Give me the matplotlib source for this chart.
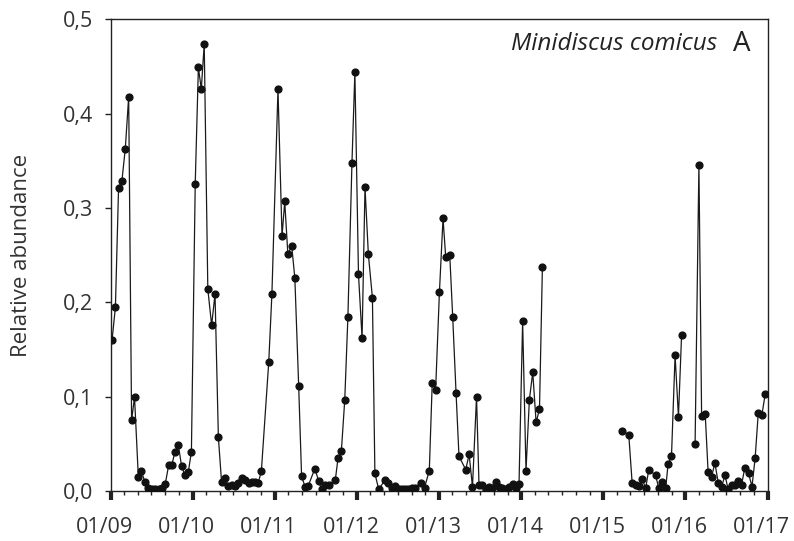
import numpy as np
import pandas as pd
import matplotlib
matplotlib.use("Agg")
import matplotlib.pyplot as plt
import matplotlib.dates as mdates
import matplotlib.transforms as mtransforms
from matplotlib.ticker import FixedLocator, FuncFormatter

plt.rcParams['font.family'] = ['Open Sans', 'DejaVu Sans']

# ---- data (sampling dates and relative abundance of Minidiscus comicus) ----
dates = [
    "2009-01-07", "2009-01-22", "2009-02-05", "2009-02-20", "2009-03-07", "2009-03-22",
    "2009-04-04", "2009-04-17", "2009-05-04", "2009-05-18", "2009-06-02", "2009-06-17",
    "2009-07-03", "2009-07-18", "2009-08-02", "2009-08-17", "2009-09-01", "2009-09-16",
    "2009-09-30", "2009-10-14", "2009-10-29", "2009-11-12", "2009-11-27", "2009-12-12",
    "2009-12-26",
    "2010-01-12", "2010-01-26", "2010-02-08", "2010-02-21", "2010-03-09", "2010-03-26",
    "2010-04-10", "2010-04-25", "2010-05-09", "2010-05-24", "2010-06-08", "2010-06-23",
    "2010-07-08", "2010-07-23", "2010-08-08", "2010-08-23", "2010-09-07", "2010-09-21",
    "2010-10-06", "2010-10-19", "2010-11-02", "2010-12-05", "2010-12-19",
    "2011-01-15", "2011-02-02", "2011-02-14", "2011-02-28", "2011-03-17", "2011-03-31",
    "2011-04-17", "2011-04-30", "2011-05-15", "2011-05-30", "2011-06-28", "2011-07-15",
    "2011-07-28", "2011-08-13", "2011-08-28", "2011-09-27", "2011-10-09", "2011-10-24",
    "2011-11-08", "2011-11-22", "2011-12-10", "2011-12-23",
    "2012-01-08", "2012-01-24", "2012-02-06", "2012-02-21", "2012-03-10", "2012-03-21",
    "2012-04-07", "2012-05-05", "2012-05-20", "2012-06-04", "2012-06-19", "2012-07-04",
    "2012-07-19", "2012-08-02", "2012-08-17", "2012-09-01", "2012-09-15", "2012-10-12",
    "2012-10-28", "2012-11-18", "2012-12-01", "2012-12-16",
    "2013-01-02", "2013-01-18", "2013-01-30", "2013-02-17", "2013-03-02", "2013-03-17",
    "2013-03-30", "2013-04-29", "2013-05-14", "2013-05-29", "2013-06-16", "2013-06-27",
    "2013-07-12", "2013-07-27", "2013-08-11", "2013-08-26", "2013-09-10", "2013-09-24",
    "2013-10-09", "2013-10-27", "2013-11-08", "2013-11-23", "2013-12-07", "2013-12-22",
    "2014-01-07", "2014-01-22", "2014-02-06", "2014-02-21", "2014-03-08", "2014-03-23",
    "2014-04-05",
    "2014-09-01",
    "2015-03-23", "2015-04-24", "2015-05-09", "2015-05-24", "2015-06-08", "2015-06-23",
    "2015-07-08", "2015-07-22", "2015-08-21", "2015-09-05", "2015-09-20", "2015-10-05",
    "2015-10-16", "2015-10-31", "2015-11-16", "2015-12-01", "2015-12-15",
    "2016-01-15",
    "2016-02-13", "2016-03-01", "2016-03-13", "2016-03-29", "2016-04-11", "2016-04-26",
    "2016-05-11", "2016-05-26", "2016-06-10", "2016-06-25", "2016-07-09", "2016-07-24",
    "2016-08-08", "2016-08-23", "2016-09-07", "2016-09-21", "2016-10-08", "2016-10-23",
    "2016-11-06", "2016-11-20", "2016-12-06", "2016-12-21",
]

abundance = [
    0.160, 0.195, 0.321, 0.329, 0.363, 0.418,
    0.075, 0.100, 0.015, 0.021, 0.010, 0.004,
    0.002, 0.002, 0.002, 0.003, 0.008, 0.028,
    0.028, 0.042, 0.049, 0.027, 0.017, 0.020,
    0.042,
    0.326, 0.449, 0.426, 0.474, 0.214, 0.176,
    0.209, 0.057, 0.010, 0.014, 0.006, 0.007,
    0.006, 0.009, 0.014, 0.012, 0.009, 0.010,
    0.010, 0.009, 0.021, 0.137, 0.209,
    0.426, 0.270, 0.307, 0.251, 0.260, 0.226,
    0.112, 0.016, 0.005, 0.006, 0.024, 0.011,
    0.002, 0.007, 0.007, 0.012, 0.035, 0.043,
    0.097, 0.185, 0.348, 0.444,
    0.230, 0.162, 0.322, 0.251, 0.205, 0.019,
    0.002, 0.012, 0.009, 0.004, 0.006, 0.002,
    0.002, 0.002, 0.002, 0.004, 0.004, 0.009,
    0.004, 0.022, 0.115, 0.107,
    0.211, 0.289, 0.248, 0.250, 0.185, 0.104,
    0.037, 0.023, 0.039, 0.005, 0.100, 0.007,
    0.007, 0.001, 0.005, 0.003, 0.010, 0.005,
    0.004, 0.002, 0.005, 0.008, 0.004, 0.008,
    0.180, 0.022, 0.097, 0.126, 0.073, 0.087,
    0.238,
    np.nan,
    0.064, 0.060, 0.009, 0.007, 0.006, 0.013,
    0.003, 0.023, 0.017, 0.003, 0.010, 0.003,
    0.029, 0.037, 0.144, 0.079, 0.166,
    np.nan,
    0.050, 0.346, 0.080, 0.082, 0.020, 0.015,
    0.030, 0.009, 0.005, 0.017, 0.002, 0.007,
    0.007, 0.011, 0.007, 0.025, 0.019, 0.005,
    0.035, 0.083, 0.081, 0.103,
]

y_ticks = [0.0, 0.1, 0.2, 0.3, 0.4, 0.5]
title_species = "Minidiscus comicus"
panel_letter = "A"
y_label = "Relative abundance"

# ---- figure ----
fig = plt.figure(figsize=(7.94, 5.41), dpi=100)
ax = fig.add_axes([0.1394, 0.0919, 0.8275, 0.8724])

t = pd.to_datetime(dates)
ax.plot(t, abundance, color='#1a1a1a', lw=0.9, marker='o', ms=4.9,
        markerfacecolor='#111111', markeredgecolor='#111111', zorder=3)

ax.set_xlim(pd.Timestamp("2009-01-01"), pd.Timestamp("2017-01-01"))
ax.set_ylim(0, 0.5)

ax.xaxis.set_major_locator(mdates.YearLocator())
ax.xaxis.set_major_formatter(mdates.DateFormatter('%m/%y'))
ax.xaxis.set_minor_locator(mdates.MonthLocator(bymonth=[3, 5, 7, 9, 11]))

ax.yaxis.set_major_locator(FixedLocator(y_ticks))
ax.yaxis.set_major_formatter(FuncFormatter(lambda v, p: f"{v:.1f}".replace('.', ',')))

for s in ax.spines.values():
    s.set_linewidth(1.0)
    s.set_color('#222222')

ax.tick_params(axis='x', which='major', direction='out', length=6.5, width=3,
               color='#222222', labelsize=15.5, pad=12, labelcolor='#333333')
ax.tick_params(axis='x', which='minor', direction='out', length=2.6, width=1,
               color='#222222')
ax.tick_params(axis='y', which='major', direction='out', length=4.5, width=1,
               color='#222222', labelsize=15.5, pad=8, labelcolor='#333333')

# x tick labels in the reference sit slightly left of their ticks
shift = mtransforms.ScaledTranslation(-6 / 100, 0, fig.dpi_scale_trans)
for lab in ax.xaxis.get_majorticklabels():
    lab.set_transform(lab.get_transform() + shift)

ax.set_ylabel(y_label, fontsize=16, color='#333333')
ax.yaxis.set_label_coords(-0.12, 0.5)

ax.text(0.610, 0.947, title_species, transform=ax.transAxes, fontsize=17.5,
        style='italic', color='#222222', ha='left', va='center')
ax.text(0.9467, 0.947, panel_letter, transform=ax.transAxes, fontsize=20,
        color='#222222', ha='left', va='center')

fig.savefig("out.png", dpi=100)
